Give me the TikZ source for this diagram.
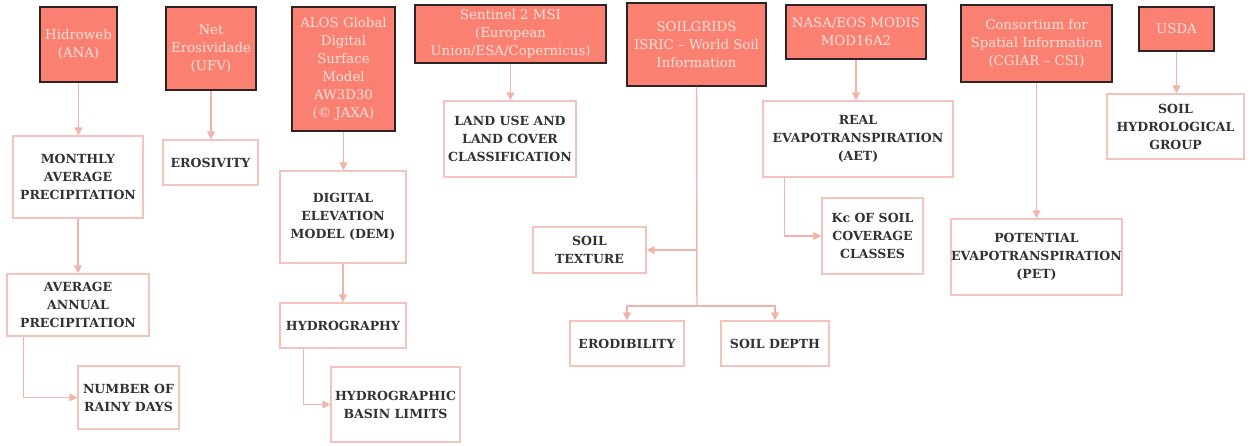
\documentclass[tikz,border=0pt]{standalone}
\usepackage{fontspec}
\setmainfont{DejaVu Serif}
\usetikzlibrary{arrows.meta}
\definecolor{srcfill}{RGB}{250,128,114}
\definecolor{srctext}{RGB}{255,226,216}
\definecolor{srcdraw}{RGB}{45,35,35}
\definecolor{outdraw}{RGB}{244,196,188}
\definecolor{outtext}{RGB}{50,50,50}
\definecolor{arrcol}{RGB}{242,180,170}
\newcommand\bx[7]{\node[#2, minimum width={(#5-#3)*0.75pt}, minimum height={(#6-#4)*0.75pt}] (#1) at ({(#3+#5)/2},{(#4+#6)/2}) {#7};}
\begin{document}
\begin{tikzpicture}[x=0.75pt,y=-0.75pt,
  srcbox/.style={draw=srcdraw, fill=srcfill, line width=1.2pt, text=srctext, align=center, inner sep=0pt,
     font=\fontsize{10}{13.5}\selectfont},
  outbox/.style={draw=outdraw, fill=white, line width=1.1pt, text=outtext, align=center, inner sep=0pt,
     font=\fontsize{9.4}{13.5}\selectfont\bfseries},
  link/.style={draw=arrcol, line width=1.1pt},
  arr/.style={link, -{Triangle[length=6pt,width=6pt]}}]
\useasboundingbox (0,0) rectangle (1253,446);
% sources
\bx{hid}{srcbox}{40}{7}{117}{82}{Hidroweb\\(ANA)}
\bx{net}{srcbox}{166}{7}{256}{90}{Net\\Erosividade\\(UFV)}
\bx{alos}{srcbox}{292}{7}{395}{131}{ALOS Global\\Digital\\Surface\\Model\\AW3D30\\(© JAXA)}
\bx{sen}{srcbox}{415}{5}{606}{63}{Sentinel 2 MSI\\(European\\Union/ESA/Copernicus)}
\bx{soil}{srcbox}{627}{3}{766}{86}{SOILGRIDS\\ISRIC – World Soil\\Information}
\bx{nasa}{srcbox}{786}{5}{926}{59}{NASA/EOS MODIS\\MOD16A2}
\bx{cgiar}{srcbox}{961}{5}{1112}{82}{Consortium for\\Spatial Information\\(CGIAR – CSI)}
\bx{usda}{srcbox}{1139}{7}{1214}{51}{USDA}
% outputs
\bx{mon}{outbox}{13}{136}{143}{218}{MONTHLY\\AVERAGE\\PRECIPITATION}
\bx{ann}{outbox}{7}{274}{149}{336}{AVERAGE\\ANNUAL\\PRECIPITATION}
\bx{rain}{outbox}{78}{366}{179}{429}{NUMBER OF\\RAINY DAYS}
\bx{ero}{outbox}{163}{140}{258}{185}{EROSIVITY}
\bx{dem}{outbox}{280}{171}{406}{263}{DIGITAL\\ELEVATION\\MODEL (DEM)}
\bx{hyd}{outbox}{280}{303}{406}{348}{HYDROGRAPHY}
\bx{bas}{outbox}{331}{367}{460}{442}{HYDROGRAPHIC\\BASIN LIMITS}
\bx{land}{outbox}{444}{101}{576}{177}{LAND USE AND\\LAND COVER\\CLASSIFICATION}
\bx{tex}{outbox}{533}{227}{646}{273}{SOIL\\TEXTURE}
\bx{erod}{outbox}{570}{321}{684}{366}{ERODIBILITY}
\bx{dep}{outbox}{721}{321}{829}{366}{SOIL DEPTH}
\bx{aet}{outbox}{763}{101}{953}{177}{REAL\\EVAPOTRANSPIRATION\\(AET)}
\bx{kc}{outbox}{822}{198}{923}{274}{Kc OF SOIL\\COVERAGE\\CLASSES}
\bx{pet}{outbox}{951}{219}{1122}{295}{POTENTIAL\\EVAPOTRANSPIRATION\\(PET)}
\bx{shg}{outbox}{1107}{94}{1244}{159}{SOIL\\HYDROLOGICAL\\GROUP}
% connectors
\draw[arr] (hid.south) -- (hid.south |- mon.north);
\draw[arr] (mon.south) -- (mon.south |- ann.north);
\draw[arr] ([xshift=12.75pt]ann.south west) |- (rain.west);
\draw[arr] (net.south) -- (net.south |- ero.north);
\draw[arr] (alos.south) -- (alos.south |- dem.north);
\draw[arr] (dem.south) -- (dem.south |- hyd.north);
\draw[arr] ([xshift=18pt]hyd.south west) |- (bas.west);
\draw[arr] (sen.south) -- (sen.south |- land.north);
\coordinate (sj) at (697,306);
\draw[link] (soil.south) -- (sj);
\draw[arr] (soil.south |- tex.east) -- (tex.east);
\draw[arr] (sj) -| (erod.north);
\draw[arr] (sj) -| (dep.north);
\draw[arr] (nasa.south) -- (nasa.south |- aet.north);
\draw[arr] ([xshift=16.5pt]aet.south west) |- (kc.west);
\draw[arr] (cgiar.south) -- (cgiar.south |- pet.north);
\draw[arr] (usda.south) -- (usda.south |- shg.north);
\end{tikzpicture}
\end{document}
